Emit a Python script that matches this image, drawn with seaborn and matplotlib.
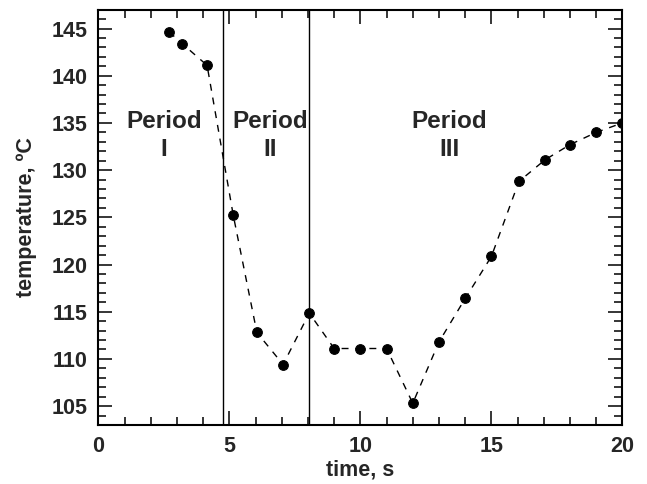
import matplotlib

matplotlib.use("Agg")
import matplotlib.pyplot as plt
import numpy as np
import seaborn as sns
from matplotlib.ticker import MultipleLocator

# data
time_s = [2.7, 3.2, 4.15, 5.15, 6.05, 7.05, 8.05, 9.0, 10.0, 11.0,
          12.0, 13.0, 14.0, 15.0, 16.05, 17.05, 18.0, 19.0, 20.0]
temp_c = [144.65, 143.4, 141.1, 125.2, 112.8, 109.4, 114.85, 111.1, 111.1, 111.1,
          105.3, 111.8, 116.4, 120.85, 128.8, 131.1, 132.7, 134.0, 135.0]
period_bounds = [4.75, 8.05]
period_names = ["Period\nI", "Period\nII", "Period\nIII"]
period_label_x = [2.5, 6.55, 13.4]
period_label_y = 133.7

sns.set_style("ticks")
plt.rcParams["font.family"] = ["Liberation Sans", "DejaVu Sans"]
plt.rcParams["font.weight"] = "bold"

fig = plt.figure(figsize=(6.47, 4.84), dpi=100)
ax = fig.add_axes([0.152, 0.122, 0.81, 0.858])

sns.lineplot(x=time_s, y=temp_c, ax=ax, color="black", linestyle=(0, (5, 5)),
             linewidth=1.0, marker="o", markersize=7, markeredgecolor="black",
             sort=False)

for xb in period_bounds:
    ax.axvline(xb, color="black", linewidth=1.0)

for lx, name in zip(period_label_x, period_names):
    ax.text(lx, period_label_y, name, ha="center", va="center",
            fontsize=17.5, fontweight="bold", linespacing=1.3)

ax.set_xlim(0, 20)
ax.set_ylim(103, 147)
ax.xaxis.set_major_locator(MultipleLocator(5))
ax.xaxis.set_minor_locator(MultipleLocator(1))
ax.yaxis.set_major_locator(MultipleLocator(5))
ax.yaxis.set_minor_locator(MultipleLocator(1))
ax.set_yticks(np.arange(105, 146, 5))

ax.tick_params(which="both", direction="in", top=True, right=True, width=1.3,
               labelsize=15.5)
ax.tick_params(which="major", length=10, pad=8)
ax.tick_params(which="minor", length=6)
for lbl in ax.get_xticklabels() + ax.get_yticklabels():
    lbl.set_fontweight("bold")
for sp in ax.spines.values():
    sp.set_linewidth(1.5)
    sp.set_color("black")

ax.set_xlabel("time, s", fontsize=15.5, fontweight="bold", labelpad=2)
ax.set_ylabel("temperature, \u00baC", fontsize=15.5, fontweight="bold", labelpad=10)

fig.savefig("out.png", dpi=100)
